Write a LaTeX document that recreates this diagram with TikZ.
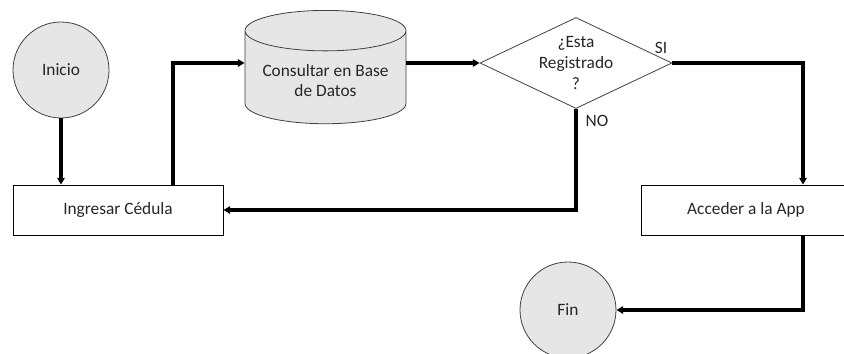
\documentclass[tikz,border=0pt]{standalone}
\usepackage{fontspec}
\setmainfont{Carlito}
\usepackage{xcolor}
\usetikzlibrary{shapes.geometric, arrows.meta}

\definecolor{fondo}{RGB}{231,230,230}
\definecolor{texto}{RGB}{38,38,38}

\begin{document}
\begin{tikzpicture}[x=0.75pt, y=-0.75pt,
    font=\fontsize{13}{15.5}\selectfont, text=texto,
    terminal/.style={draw=black!75, line width=0.6pt, circle, fill=fondo, minimum size=72pt, inner sep=0pt},
    proceso/.style={draw, line width=0.6pt, rectangle, minimum width=157.5pt, minimum height=37.5pt},
    flecha/.style={line width=2.4pt, -{Triangle[length=5pt, width=5.5pt]}}]
    \clip (0,0) rectangle (844,354);

    \node[terminal] (Ini) at (61,70) {Inicio};
    \node[proceso] (Ced) at (118,210) {Ingresar Cédula};
    \node[draw=black!75, line width=0.6pt, cylinder, shape border rotate=90, aspect=0.3, fill=fondo,
          minimum width=120.75pt, minimum height=85pt, align=center, anchor=north] (BD) at (325.5,10) {Consultar en Base\\de Datos};
    \node[draw=black!75, line width=0.6pt, diamond, aspect=2.11, minimum width=144pt, minimum height=68.25pt,
          inner sep=0pt, align=center] (Reg) at (576,63) {¿Esta\\Registrado\\?};
    \node[proceso] (App) at (746,210) {Acceder a la App};
    \node[terminal] (Fin) at (568,310) {Fin};

    \node (SI) at (661,48) {SI};
    \node (NO) at (597,121) {NO};

    \draw[flecha] (Ini) -- (Ini |- Ced.north);
    \draw[flecha] ([xshift=41.25pt]Ced.north) |- (Reg.west -| BD.west);
    \draw[flecha] (BD.east |- Reg.west) -- (Reg.west);
    \draw[flecha] (Reg.south) |- (Ced.east);
    \draw[flecha] (Reg.east) -| ([xshift=42.75pt]App.north);
    \draw[flecha] ([xshift=42.75pt]App.south) |- (Fin.east);
\end{tikzpicture}
\end{document}
